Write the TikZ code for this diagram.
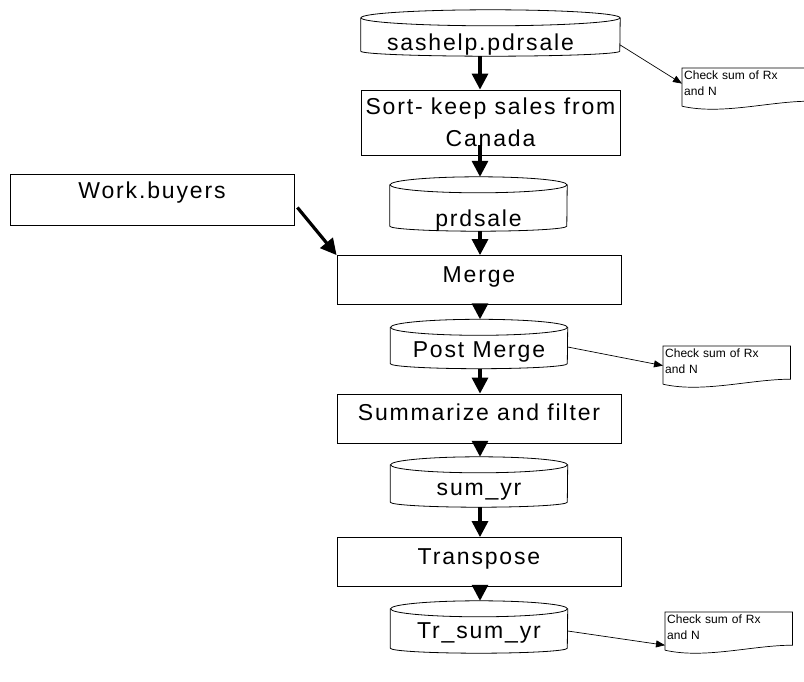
\documentclass[tikz,border=0pt]{standalone}
\usepackage{fontspec}
\usepackage{tikz}
\usetikzlibrary{positioning,calc,arrows.meta}
\newfontfamily\flowfont[LetterSpace=8]{Liberation Sans}
\newfontfamily\notefont{Liberation Sans}

\begin{document}
\begin{tikzpicture}[x=1pt, y=-1pt,
    box/.style={draw, line width=0.8pt, inner sep=2pt, font=\flowfont\fontsize{23pt}{32pt}\selectfont},
    task/.style={box, minimum width=284pt, minimum height=49pt, text height=15pt, text depth=11pt},
    store/.style={inner sep=2pt, minimum width=177pt, text height=30pt, text depth=3pt, font=\flowfont\fontsize{23pt}{32pt}\selectfont},
    note/.style={anchor=north west, align=left, text width=123pt, inner xsep=2pt, inner ysep=3pt, font=\notefont\fontsize{12pt}{16pt}\selectfont},
    flow/.style={line width=3.2pt, -{Triangle[width=16pt,length=16pt]}},
    link/.style={line width=0.7pt, -{Triangle[width=7pt,length=9pt]}}]
    \useasboundingbox (0,0) rectangle (804,682);

    % main column
    \coordinate (col) at (480,0);
    \node[store, minimum width=259pt, minimum height=46pt, text height=36pt, text depth=0pt] (src) at (490.5,33) {sashelp.pdrsale\hspace*{20pt}};
    \node[box, minimum width=259pt, minimum height=65pt, align=center] (sort) at (490.5,122.5) {Sort- keep sales from\\Canada};
    \node[store, minimum height=54pt, text height=45pt, text depth=0pt] (prd) at (478.5,204) {prdsale};
    \node[task] (merge) at (479,280) {Merge};
    \node[store, minimum height=49pt] (post) at (479,344) {Post Merge};
    \node[task] (summ) at (479,418.5) {Summarize and filter};
    \node[store, minimum height=50pt] (sumyr) at (479,482) {sum\_yr};
    \node[task] (trans) at (479,562) {Transpose};
    \node[store, minimum height=52pt, text height=26pt] (trsum) at (479,627) {Tr\_sum\_yr};

    % side input
    \node[task, minimum height=51pt, text depth=17pt] (wb) at (152,199.5) {Work.buyers};

    % checks
    \node[note] (chk1) at (682,68) {Check sum of Rx\\and N};
    \node[note] (chk2) at (663,346) {Check sum of Rx\\and N};
    \node[note] (chk3) at (665,612) {Check sum of Rx\\and N};

    % cylinders
    \foreach \c/\r in {src/129.5pt, prd/88.5pt, post/88.5pt, sumyr/88.5pt, trsum/88.5pt} {
      \draw[line width=0.8pt] ([yshift=-8pt]\c.north west) -- ([yshift=5pt]\c.south west)
        arc[start angle=180, end angle=360, x radius=\r, y radius=5pt] -- ([yshift=-8pt]\c.north east);
      \draw[line width=0.8pt] ([yshift=-8pt]\c.north) ellipse[x radius=\r, y radius=8pt];
    }

    % note outlines
    \foreach \c in {chk1,chk2,chk3}
      \draw[line width=0.7pt] ([yshift=-7pt]\c.south west) -- (\c.north west) -- (\c.north east) -- ([yshift=-2pt]\c.south east)
        .. controls ([xshift=-40pt,yshift=-2pt]\c.south east) and ([xshift=40pt,yshift=-16pt]\c.south west) .. ([yshift=-7pt]\c.south west);

    % flow
    \draw[flow] (src.south -| col) -- (sort.north -| col);
    \draw[flow, shorten <=-10pt] (sort.south -| col) -- (prd.north -| col);
    \draw[flow] (prd.south -| col) -- (merge.north -| col);
    \draw[flow, shorten <=-10pt] (merge.south -| col) -- (post.north -| col);
    \draw[flow] (post.south -| col) -- (summ.north -| col);
    \draw[flow, shorten <=-10pt] (summ.south -| col) -- (sumyr.north -| col);
    \draw[flow] (sumyr.south -| col) -- (trans.north -| col);
    \draw[flow, shorten <=-10pt] (trans.south -| col) -- (trsum.north -| col);
    \draw[flow] ([xshift=3pt,yshift=-8pt]wb.east) -- (merge.north west);

    % check links
    \draw[link] ([yshift=-12pt]src.east) -- (chk1.west);
    \draw[link] ([yshift=-3pt]post.east) -- ([yshift=-4pt]chk2.west);
    \draw[link] ([yshift=-4pt]trsum.east) -- ([yshift=-2pt]chk3.south west);
\end{tikzpicture}
\end{document}
